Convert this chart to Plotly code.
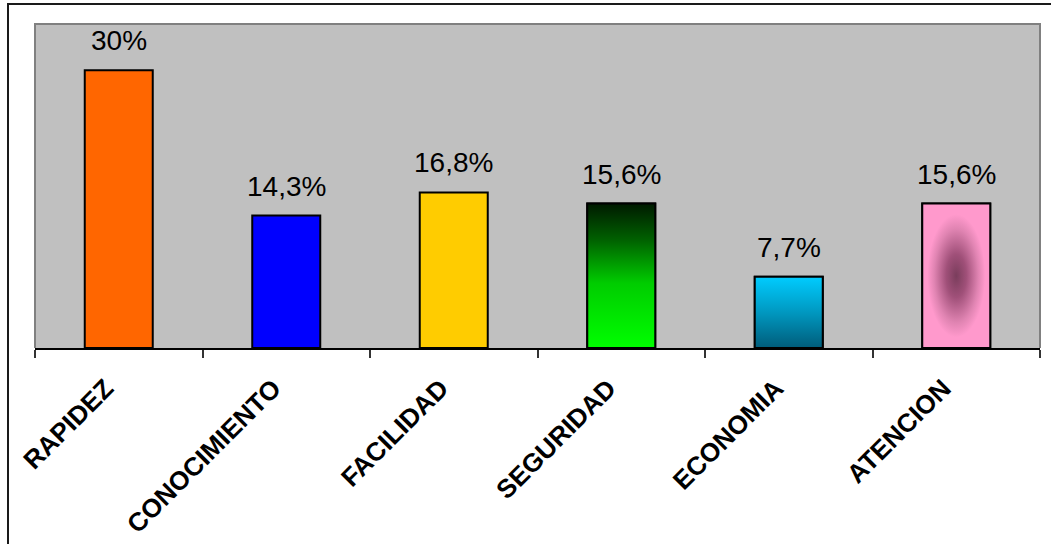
import plotly.graph_objects as go

# Survey results: share of responses per attribute (%)
categories = ["RAPIDEZ", "CONOCIMIENTO", "FACILIDAD", "SEGURIDAD", "ECONOMIA", "ATENCION"]
values = [30, 14.3, 16.8, 15.6, 7.7, 15.6]
solid_colors = ["#FF6600", "#0000FF", "#FFCC00", "#00E000", "#0099BB", "#FF99CC"]

# Bars that get a gradient fill instead of a flat colour
gradient_fills = {
    "SEGURIDAD": dict(type="vertical",
                      colorscale=[[0, "#00FF00"], [0.45, "#00CC00"], [0.75, "#006000"], [1, "#001A00"]]),
    "ECONOMIA": dict(type="vertical",
                     colorscale=[[0, "#005C7A"], [0.5, "#0098C0"], [1, "#00CCFF"]]),
    "ATENCION": dict(type="radial",
                     colorscale=[[0, "#7A3D5C"], [0.3, "#A05079"], [0.65, "#E084B2"], [0.85, "#FF99CC"], [1, "#FF99CC"]]),
}

BAR_WIDTH = 0.406


def pct_label(v):
    txt = f"{v:g}".replace(".", ",")
    return txt + "%"


fig = go.Figure()

fig.add_trace(go.Bar(
    x=categories,
    y=values,
    width=BAR_WIDTH,
    marker=dict(color=solid_colors, line=dict(color="black", width=2)),
    hoverinfo="x+y",
    showlegend=False,
))

# Gradient-filled bars drawn as filled outlines on a numeric overlay axis
for i, (cat, val) in enumerate(zip(categories, values)):
    if cat not in gradient_fills:
        continue
    x0, x1 = i - BAR_WIDTH / 2, i + BAR_WIDTH / 2
    fig.add_trace(go.Scatter(
        x=[x0, x1, x1, x0, x0],
        y=[0, 0, val, val, 0],
        xaxis="x2",
        mode="lines",
        fill="toself",
        fillgradient=gradient_fills[cat],
        line=dict(color="black", width=2),
        hoverinfo="skip",
        showlegend=False,
    ))

# Value labels above each bar
for cat, val in zip(categories, values):
    fig.add_annotation(
        x=cat, y=val, text=pct_label(val),
        showarrow=False, yanchor="bottom", yshift=12,
        font=dict(family="Liberation Sans, Arial, sans-serif", size=28, color="black"),
    )

fig.update_layout(
    width=1051, height=544,
    margin=dict(l=35, r=11, t=24, b=196),
    paper_bgcolor="white",
    plot_bgcolor="#C0C0C0",
    xaxis=dict(
        type="category",
        categoryorder="array", categoryarray=categories,
        range=[-0.5, 5.5],
        automargin=False,
        showline=True, linecolor="black", linewidth=1.5,
        ticks="outside", ticklen=8, tickcolor="#333333", tickwidth=1.5,
        tickson="boundaries",
        tickangle=-45,
        ticklabelstandoff=13,
        ticklabelshift=-13,
        tickfont=dict(family="Liberation Sans, Arial, sans-serif", size=26, color="black", weight="bold"),
        showgrid=False, zeroline=False,
    ),
    xaxis2=dict(overlaying="x", range=[-0.5, 5.5], visible=False),
    yaxis=dict(range=[0, 35], visible=False, showgrid=False, zeroline=False),
    shapes=[
        # plot-area border (top, left, right)
        dict(type="path", xref="paper", yref="paper",
             path="M 0,0 L 0,1 L 1,1 L 1,0",
             line=dict(color="#808080", width=2), layer="above"),
        # outer chart frame
        dict(type="rect", xref="paper", yref="paper",
             x0=-27 / 1005, x1=1.1, y0=-1.0, y1=344 / 324,
             line=dict(color="#1A1A1A", width=2), layer="above"),
    ],
)

fig.write_html("out.html")
